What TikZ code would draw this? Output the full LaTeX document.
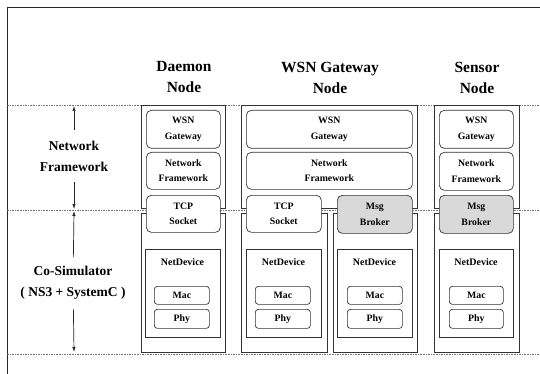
\documentclass[tikz,border=0pt]{standalone}
\usepackage{fontspec}
\setmainfont{Liberation Serif}
\usetikzlibrary{arrows.meta}
\tikzset{
  frameline/.style={draw=black!85, line width=0.9pt},
  sepline/.style={draw=black!55, line width=0.8pt, dash pattern=on 1.6pt off 1pt},
  colbox/.style={draw=black!80, line width=0.7pt, inner sep=0pt, anchor=north west},
  rbox/.style={draw=black!80, line width=0.7pt, rounded corners=5pt, fill=white, anchor=north west,
    align=center, inner sep=0pt, font=\fontsize{9.8}{15.5}\selectfont\bfseries},
  gbox/.style={rbox, fill=black!15},
  devbox/.style={draw=black!80, line width=0.7pt, fill=white, anchor=north west, inner sep=0pt},
  layerbox/.style={rbox, rounded corners=3pt},
  devlabel/.style={font=\fontsize{10}{12}\selectfont\bfseries, inner sep=0pt},
  title/.style={align=center, font=\fontsize{15.5}{21}\selectfont\bfseries, inner sep=0pt},
  sidelabel/.style={align=center, font=\fontsize{13.5}{21}\selectfont\bfseries, inner xsep=0pt},
  arr/.style={draw=black!85, line width=0.7pt, -{Latex[length=5pt,width=3.5pt]}}
}
\begin{document}
\begin{tikzpicture}[x=1pt,y=-1pt]
\useasboundingbox (0,0) rectangle (540,374);
% frame
\draw[frameline] (540,7) -- (7,7) -- (7,374);
% separators
\draw[sepline] (7,105) -- (540,105);
\draw[sepline] (7,210) -- (540,210);
\draw[sepline] (7,354) -- (540,354);

% titles
\node[title] (tdaemon) at (184,77.5) {Daemon\\Node};
\node[title] (tgw) at (330,77.5) {WSN Gateway\\Node};
\node[title] (tsensor) at (477,77.5) {Sensor\\Node};

% side labels
\node[sidelabel, inner ysep=11pt] (lnf) at (74,156) {Network\\Framework};
\coordinate (nfTop) at (74,106);
\coordinate (nfBot) at (74,209);
\draw[arr] (lnf) -- (nfTop);
\draw[arr] (lnf) -- (nfBot);
\node[sidelabel, inner ysep=9pt] (lcs) at (73,283) {Co-Simulator\\( NS3 + SystemC )};
\coordinate (csTop) at (74,211);
\coordinate (csBot) at (74,352);
\draw[arr] (lcs) -- (csTop);
\draw[arr] (lcs) -- (csBot);

% ---------- Daemon node ----------
\node[colbox, minimum width=84pt, minimum height=103pt] (dUp) at (141,105) {};
\node[colbox, minimum width=84pt, minimum height=139pt] (dLo) at (141,213) {};
\node[rbox, minimum width=74pt, minimum height=38pt] (dWsn) at (146,110) {WSN\\Gateway};
\node[rbox, minimum width=74pt, minimum height=37pt] (dNf) at (146,152) {Network\\Framework};
\node[rbox, minimum width=74pt, minimum height=37pt] (dTcp) at (146,195) {TCP\\Socket};
\node[devbox, minimum width=75pt, minimum height=88pt] (dNd) at (145,249) {};
\node[devlabel] (dNdL) at (182.5,262) {NetDevice};
\node[layerbox, minimum width=55pt, minimum height=18pt] (dMac) at (154,286) {Mac};
\node[layerbox, minimum width=55pt, minimum height=19pt] (dPhy) at (154,309) {Phy};

% ---------- WSN Gateway node ----------
\node[colbox, minimum width=176pt, minimum height=103pt] (gUp) at (241,105) {};
\node[colbox, minimum width=86pt, minimum height=139pt] (gLoA) at (241,213) {};
\node[colbox, minimum width=84pt, minimum height=139pt] (gLoB) at (333,213) {};
\node[rbox, minimum width=166pt, minimum height=38pt] (gWsn) at (246,110) {WSN\\Gateway};
\node[rbox, minimum width=166pt, minimum height=37pt] (gNf) at (246,152) {Network\\Framework};
\node[rbox, minimum width=75pt, minimum height=37pt] (gTcp) at (246,195) {TCP\\Socket};
\node[gbox, minimum width=75pt, minimum height=38pt] (gMsg) at (337,195) {Msg\\Broker};
\node[devbox, minimum width=75pt, minimum height=88pt] (gNdA) at (246,249) {};
\node[devlabel] (gNdAL) at (283.5,262) {NetDevice};
\node[layerbox, minimum width=55pt, minimum height=18pt] (gMacA) at (255,286) {Mac};
\node[layerbox, minimum width=55pt, minimum height=19pt] (gPhyA) at (255,309) {Phy};
\node[devbox, minimum width=75pt, minimum height=88pt] (gNdB) at (337,249) {};
\node[devlabel] (gNdBL) at (374.5,262) {NetDevice};
\node[layerbox, minimum width=55pt, minimum height=18pt] (gMacB) at (347,286) {Mac};
\node[layerbox, minimum width=55pt, minimum height=19pt] (gPhyB) at (347,309) {Phy};

% ---------- Sensor node ----------
\node[colbox, minimum width=85pt, minimum height=103pt] (sUp) at (434,105) {};
\node[colbox, minimum width=85pt, minimum height=139pt] (sLo) at (434,213) {};
\node[rbox, minimum width=74pt, minimum height=38pt] (sWsn) at (439,110) {WSN\\Gateway};
\node[rbox, minimum width=74pt, minimum height=38pt] (sNf) at (439,152) {Network\\Framework};
\node[gbox, minimum width=74pt, minimum height=38pt] (sMsg) at (439,195) {Msg\\Broker};
\node[devbox, minimum width=74pt, minimum height=88pt] (sNd) at (439,249) {};
\node[devlabel] (sNdL) at (476,262) {NetDevice};
\node[layerbox, minimum width=54pt, minimum height=18pt] (sMac) at (449,286) {Mac};
\node[layerbox, minimum width=54pt, minimum height=19pt] (sPhy) at (449,309) {Phy};
\end{tikzpicture}
\end{document}
